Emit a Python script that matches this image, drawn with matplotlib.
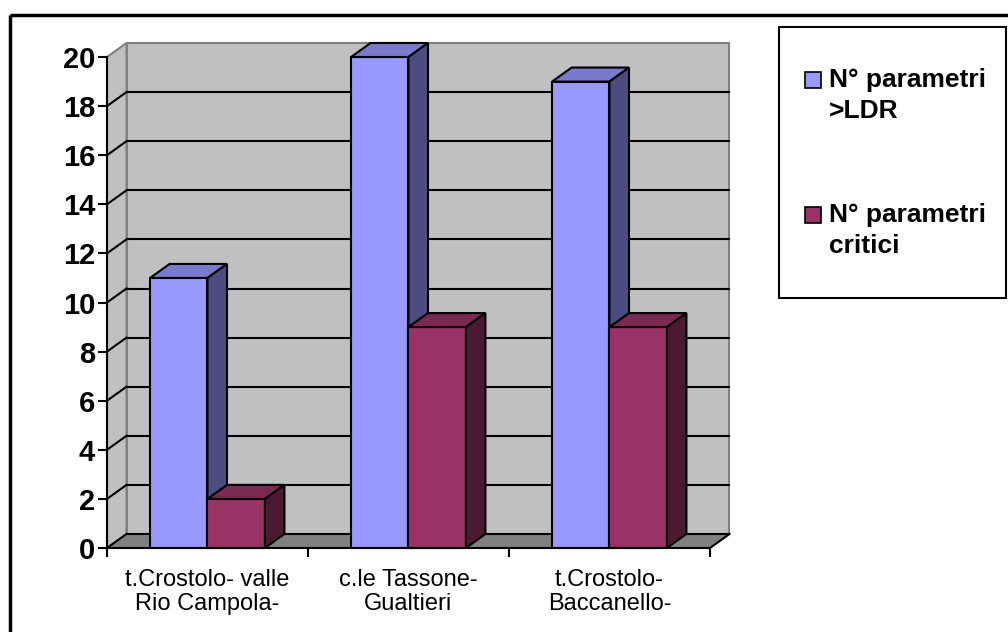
import matplotlib
matplotlib.use("Agg")
import matplotlib.pyplot as plt
from matplotlib.patches import Polygon, Rectangle

# Data
categories = ["t.Crostolo- valle\nRio Campola-", "c.le Tassone-\nGualtieri", "t.Crostolo-\nBaccanello-"]
series_names = ["N° parametri\n>LDR", "N° parametri\ncritici"]
values_ldr = [11, 20, 19]
values_crit = [2, 9, 9]
y_ticks = list(range(0, 21, 2))

series_values = [values_ldr, values_crit]
front_colors = ["#9999FF", "#993366"]
top_colors = ["#7A7ACC", "#7A2952"]
side_colors = ["#4C4C80", "#4C1933"]

W, H = 1008, 632
plt.rcParams["font.family"] = ["Liberation Sans", "DejaVu Sans"]
fig = plt.figure(figsize=(W / 100, H / 100), dpi=100)

# overlay in pixel space for the chart frame and legend box
over = fig.add_axes([0, 0, 1, 1], zorder=0)
over.set_xlim(0, W)
over.set_ylim(H, 0)
over.axis("off")
over.add_patch(Rectangle((9.5, 15), W + 20, H + 20, fill=False, lw=2.5, ec="black"))

# plot area (front plane)
x_left, x_right, y_zero, y_top = 107, 710, 548, 57
ax = fig.add_axes([x_left / W, 1 - y_zero / H, (x_right - x_left) / W, (y_zero - y_top) / H], zorder=1)
ax.set_xlim(0, len(categories))
ax.set_ylim(0, 20)
ax.patch.set_alpha(0)

n = len(categories)
dx = 19.5 / ((x_right - x_left) / n)
dy = 14 / ((y_zero - y_top) / 20)

# walls and floor
ax.add_patch(Polygon([(dx, dy), (n + dx, dy), (n + dx, 20 + dy), (dx, 20 + dy)],
                     closed=True, fc="#C0C0C0", ec="#808080", lw=1.5, clip_on=False, zorder=1))
ax.add_patch(Polygon([(0, 0), (dx, dy), (dx, 20 + dy), (0, 20)],
                     closed=True, fc="#C0C0C0", ec="#808080", lw=1.5, clip_on=False, zorder=1))
ax.add_patch(Polygon([(0, 0), (n, 0), (n + dx, dy), (dx, dy)],
                     closed=True, fc="#808080", ec="none", clip_on=False, zorder=1))
ax.plot([n, n + dx], [0, dy], color="black", lw=1.5, clip_on=False, zorder=2)

for v in y_ticks[:-1]:
    ax.plot([dx, n + dx], [v + dy, v + dy], color="black", lw=1.5, clip_on=False, zorder=2)
    ax.plot([0, dx], [v, v + dy], color="black", lw=1.5, clip_on=False, zorder=2)

# 3D bars
bw = 1 / 3.5
z = 3
for i in range(n):
    for j, vals in enumerate(series_values):
        h = vals[i]
        x0 = i + 0.5 - bw + j * bw
        x1 = x0 + bw
        kw = dict(closed=True, ec="black", lw=1.5, clip_on=False, joinstyle="miter")
        ax.add_patch(Polygon([(x0, 0), (x1, 0), (x1, h), (x0, h)], fc=front_colors[j], zorder=z, **kw))
        ax.add_patch(Polygon([(x0, h), (x1, h), (x1 + dx, h + dy), (x0 + dx, h + dy)], fc=top_colors[j], zorder=z, **kw))
        ax.add_patch(Polygon([(x1, 0), (x1 + dx, dy), (x1 + dx, h + dy), (x1, h)], fc=side_colors[j], zorder=z, **kw))
        z += 1

# axes
for s in ["top", "right"]:
    ax.spines[s].set_visible(False)
for s in ["left", "bottom"]:
    ax.spines[s].set_linewidth(1.5)
    ax.spines[s].set_zorder(20)

ax.set_yticks(y_ticks)
ax.set_yticklabels([str(t) for t in y_ticks], fontsize=21, fontweight="bold")
ax.tick_params(axis="y", direction="out", length=6.5, width=1.5, pad=2)

ax.set_xticks([i + 0.5 for i in range(n)])
ax.set_xticklabels(categories, fontsize=17, linespacing=1.15)
ax.set_xticks(list(range(n + 1)), minor=True)
ax.tick_params(axis="x", which="major", length=0, pad=15)
ax.tick_params(axis="x", which="minor", direction="out", length=6.5, width=1.5)

# legend
over.add_patch(Rectangle((779, 27), 1006 - 779, 298 - 27, fill=False, lw=1.5, ec="black"))
legend_rows = [80, 215]
for name, fc, yc in zip(series_names, front_colors, legend_rows):
    over.add_patch(Rectangle((805, yc - 8), 16, 16, fc=fc, ec="black", lw=1.2))
    over.text(829, yc - 12, name, fontsize=19, fontweight="bold", va="top", ha="left",
              linespacing=1.35)

fig.savefig("out.png", dpi=100)
